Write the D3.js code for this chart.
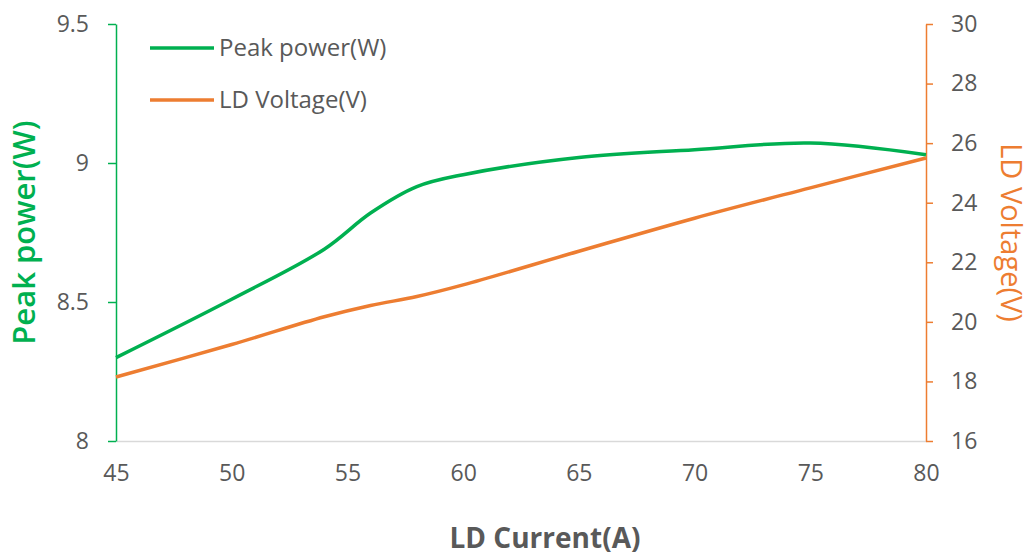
<!DOCTYPE html>
<html>
	<head>
		<script type="text/javascript" src="https://cdn.jsdelivr.net/npm/d3@7/dist/d3.min.js"></script>
		<style>
		body {
			margin: 0;
			background: white;
		}
		.tick text {
			font-family: "Open Sans", sans-serif;
			font-size: 23px;
			fill: #595959;
		}
		</style>
	</head>
	<body>
		<script type="text/javascript">
			// LD current (A)
			var current = [45, 50, 54, 56, 58, 60, 65, 70, 75, 80];
			// peak power (W), left axis
			var peakPower = [8.30, 8.51, 8.69, 8.82, 8.915, 8.958, 9.02, 9.048, 9.072, 9.03];
			// LD voltage (V), right axis
			var ldVoltage = [18.15, 19.24, 20.17, 20.55, 20.85, 21.24, 22.37, 23.48, 24.5, 25.5];

			var xTicks = [45, 50, 55, 60, 65, 70, 75, 80];
			var leftTicks = [8, 8.5, 9, 9.5];
			var rightTicks = [16, 18, 20, 22, 24, 26, 28, 30];

			var width = 1031,
				height = 558,
				margin = {top: 24, right: 105, bottom: 117, left: 116};

			var green = "#00B050",
				orange = "#ED7D31";

			var svg = d3.select("body").append("svg")
				.attr("width", width)
				.attr("height", height);

			var x = d3.scaleLinear()
				.domain([45, 80])
				.range([margin.left, width - margin.right]);

			var yL = d3.scaleLinear()
				.domain([8, 9.5])
				.range([height - margin.bottom, margin.top]);

			var yR = d3.scaleLinear()
				.domain([16, 30])
				.range([height - margin.bottom, margin.top]);

			// x axis
			var xAxis = svg.append("g")
				.attr("transform", "translate(0," + (height - margin.bottom) + ")")
				.call(d3.axisBottom(x).tickValues(xTicks).tickSize(0).tickPadding(24));
			xAxis.select(".domain").attr("stroke", "#d9d9d9").attr("stroke-width", 1.5);

			// left axis
			var leftAxis = svg.append("g")
				.attr("transform", "translate(" + margin.left + ",0)")
				.call(d3.axisLeft(yL).tickValues(leftTicks).tickSize(8).tickSizeOuter(0).tickPadding(19)
					.tickFormat(function(d) { return d; }));
			leftAxis.selectAll(".domain, .tick line").attr("stroke", green).attr("stroke-width", 1.5);

			// right axis
			var rightAxis = svg.append("g")
				.attr("transform", "translate(" + (width - margin.right) + ",0)")
				.call(d3.axisRight(yR).tickValues(rightTicks).tickSize(7).tickSizeOuter(0).tickPadding(18));
			rightAxis.selectAll(".domain, .tick line").attr("stroke", orange).attr("stroke-width", 1.5);

			// lines
			var lineL = d3.line()
				.x(function(d, i) { return x(current[i]); })
				.y(function(d) { return yL(d); })
				.curve(d3.curveCatmullRom.alpha(0.5));

			var lineR = d3.line()
				.x(function(d, i) { return x(current[i]); })
				.y(function(d) { return yR(d); })
				.curve(d3.curveCatmullRom.alpha(0.5));

			svg.append("path")
				.datum(ldVoltage)
				.attr("d", lineR)
				.attr("fill", "none")
				.attr("stroke", orange)
				.attr("stroke-width", 3.5);

			svg.append("path")
				.datum(peakPower)
				.attr("d", lineL)
				.attr("fill", "none")
				.attr("stroke", green)
				.attr("stroke-width", 3.5);

			// legend
			var legend = [
				{name: "Peak power(W)", color: green},
				{name: "LD Voltage(V)", color: orange}
			];
			var lg = svg.selectAll("g.legend")
				.data(legend)
			  .enter().append("g")
				.attr("class", "legend")
				.attr("transform", function(d, i) { return "translate(150," + (48 + i * 52) + ")"; });
			lg.append("line")
				.attr("x1", 0).attr("x2", 64)
				.attr("stroke", function(d) { return d.color; })
				.attr("stroke-width", 3.5);
			lg.append("text")
				.attr("x", 69)
				.attr("dy", "0.35em")
				.style("font-family", "'Open Sans', sans-serif")
				.style("font-size", "24px")
				.attr("fill", "#595959")
				.text(function(d) { return d.name; });

			// axis titles
			svg.append("text")
				.attr("x", 545)
				.attr("y", 548)
				.attr("text-anchor", "middle")
				.style("font-family", "'Open Sans', sans-serif")
				.style("font-size", "28px")
				.style("font-weight", "bold")
				.attr("fill", "#595959")
				.text("LD Current(A)");

			svg.append("text")
				.attr("transform", "translate(35," + (height - margin.bottom + margin.top) / 2 + ") rotate(-90)")
				.attr("text-anchor", "middle")
				.style("font-family", "'Open Sans', sans-serif")
				.style("font-size", "31px")
				.style("font-weight", "600")
				.attr("fill", green)
				.text("Peak power(W)");

			svg.append("text")
				.attr("transform", "translate(1001," + (height - margin.bottom + margin.top) / 2 + ") rotate(90)")
				.attr("text-anchor", "middle")
				.style("font-family", "'Open Sans', sans-serif")
				.style("font-size", "29px")
				.attr("fill", orange)
				.text("LD Voltage(V)");
		</script>
	</body>
</html>
